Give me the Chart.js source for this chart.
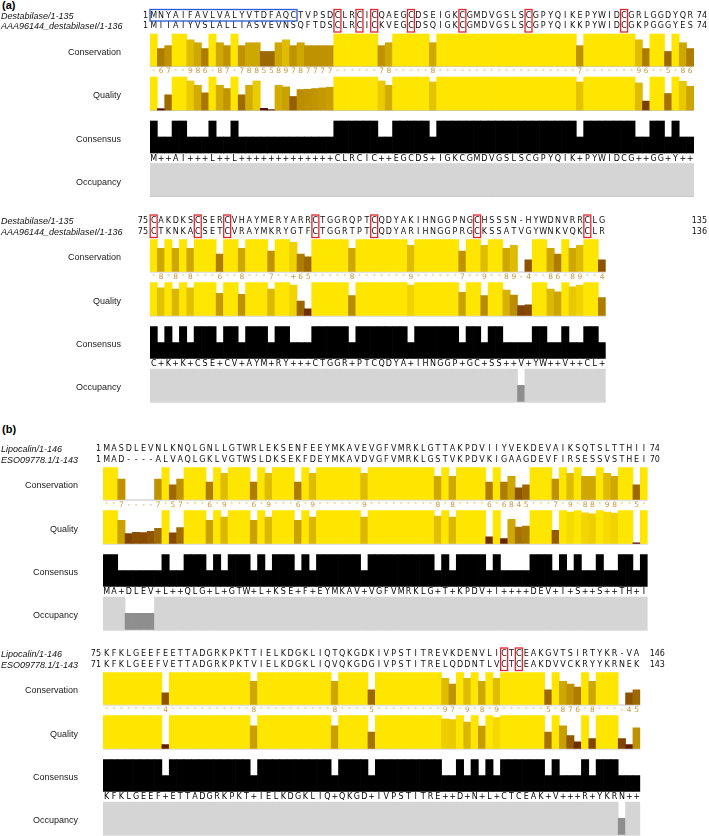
<!DOCTYPE html>
<html>
<head>
<meta charset="utf-8">
<script src="https://cdn.jsdelivr.net/npm/chart.js@4.4.1/dist/chart.umd.min.js"></script>
<style>
  html, body { margin: 0; padding: 0; background: #fff; }
  #page { position: relative; width: 709px; height: 836px; overflow: hidden; }
  #page canvas { position: absolute; left: 0; top: 0; }
  .panel { position: absolute; left: 2px; font: bold 11px "Liberation Sans", Arial, sans-serif; color: #000; }
</style>
</head>
<body>
<div id="page">
  <div class="panel" style="top:-1px">(a)</div>
  <div class="panel" style="top:423px">(b)</div>
  <canvas id="a1" width="709" height="836"></canvas>
  <canvas id="a2" width="709" height="836"></canvas>
  <canvas id="b1" width="709" height="836"></canvas>
  <canvas id="b2" width="709" height="836"></canvas>
</div>
<script>
// ---- (a) Destabilase vs AAA96144, columns 1-74
const a1Names = ['Destabilase/1-135', 'AAA96144_destabilaseI/1-136'];
const a1Seq1 = 'MNYAIFAVLVALYVTDFAQCTVPSDCLRCICQAEGCDSEIGKCGMDVGSLSCGPYQIKEPYWIDCGRLGGDYQR';
const a1Seq2 = 'MIIAIYVSLALLIASVEVNSQFTDSCLRCICKVEGCDSQIGKCGMDVGSLSCGPYQIKKPYWIDCGKPGGGYES';
const a1Start = [1, 1];
const a1End = [74, 74];
const a1Cons = [11, 6, 7, 11, 11, 9, 8, 6, 11, 8,
  7, 11, 7, 8, 8, 5, 5, 8, 9, 7,
  8, 7, 7, 7, 7, 11, 11, 11, 11, 11,
  11, 7, 8, 11, 11, 11, 11, 11, 8, 11,
  11, 11, 11, 11, 11, 11, 11, 11, 11, 11,
  11, 11, 11, 11, 11, 11, 11, 11, 7, 11,
  11, 11, 11, 11, 11, 11, 9, 6, 11, 11,
  5, 11, 8, 6];
const a1Qual = [1, 0.04, 0.46, 1, 1, 0.88, 0.75, 0.52, 1, 0.75,
  0.65, 1, 0.46, 0.75, 0.88, 0.05, 0.01, 0.75, 0.7, 0.41,
  0.62, 0.63, 0.65, 0.67, 0.69, 1, 1, 1, 1, 1,
  1, 0.88, 0.75, 1, 1, 1, 1, 1, 0.85, 1,
  1, 1, 1, 1, 1, 1, 1, 1, 1, 1,
  1, 1, 1, 1, 1, 1, 1, 1, 0.85, 1,
  1, 1, 1, 1, 1, 1, 0.82, 0.27, 1, 1,
  0.5, 1, 0.87, 0.72];
const a1Consensus = [100, 50, 50, 100, 100, 50, 50, 50, 100, 50,
  50, 100, 50, 50, 50, 50, 50, 50, 50, 50,
  50, 50, 50, 50, 50, 100, 100, 100, 100, 100,
  100, 50, 50, 100, 100, 100, 100, 100, 50, 100,
  100, 100, 100, 100, 100, 100, 100, 100, 100, 100,
  100, 100, 100, 100, 100, 100, 100, 100, 50, 100,
  100, 100, 100, 100, 100, 100, 50, 50, 100, 100,
  50, 100, 50, 50];
const a1ConsText = 'M++AI+++L++L+++++++++++++CLRCIC++EGCDS+IGKCGMDVGSLSCGPYQIK+PYWIDCG++GG+Y++';
const a1Occ = [2, 2, 2, 2, 2, 2, 2, 2, 2, 2,
  2, 2, 2, 2, 2, 2, 2, 2, 2, 2,
  2, 2, 2, 2, 2, 2, 2, 2, 2, 2,
  2, 2, 2, 2, 2, 2, 2, 2, 2, 2,
  2, 2, 2, 2, 2, 2, 2, 2, 2, 2,
  2, 2, 2, 2, 2, 2, 2, 2, 2, 2,
  2, 2, 2, 2, 2, 2, 2, 2, 2, 2,
  2, 2, 2, 2];
const a1Red = [26, 29, 31, 36, 43, 52, 65];
const a1Blue = [1, 20];

// ---- (a) columns 75-136
const a2Seq1 = 'CAKDKSCSERCVHAYMERYARRCTGGRQPTCQDYAKIHNGGPNGCHSSSN-HYWDNVRRCLG';
const a2Seq2 = 'CTKNKACSETCVRAYMKRYGTFCTGGRTPTCQDYARIHNGGPRGCKSSATVGYWNKVQKCLR';
const a2Start = [75, 75];
const a2End = [135, 136];
const a2Cons = [11, 8, 11, 8, 11, 8, 11, 11, 11, 6,
  11, 11, 8, 11, 11, 11, 7, 11, 11, 10,
  6, 5, 11, 11, 11, 11, 11, 8, 11, 11,
  11, 11, 11, 11, 11, 9, 11, 11, 11, 11,
  11, 11, 7, 11, 11, 9, 11, 11, 8, 9,
  null, 4, 11, 11, 8, 6, 11, 8, 9, 11,
  11, 4];
const a2Qual = [1, 0.84, 1, 0.8, 1, 0.84, 1, 1, 1, 0.67,
  1, 1, 0.64, 1, 1, 1, 0.8, 1, 1, 0.92,
  0.44, 0.2, 1, 1, 1, 1, 1, 0.6, 1, 1,
  1, 1, 1, 1, 1, 0.92, 1, 1, 1, 1,
  1, 1, 0.7, 1, 1, 0.6, 1, 1, 0.77, 0.62,
  0.3, 0.32, 1, 1, 0.8, 0.72, 1, 0.87, 0.92, 1,
  1, 0.54];
const a2Consensus = [100, 50, 100, 50, 100, 50, 100, 100, 100, 50,
  100, 100, 50, 100, 100, 100, 50, 100, 100, 50,
  50, 50, 100, 100, 100, 100, 100, 50, 100, 100,
  100, 100, 100, 100, 100, 50, 100, 100, 100, 100,
  100, 100, 50, 100, 100, 50, 100, 100, 50, 50,
  50, 50, 100, 100, 50, 50, 100, 50, 50, 100,
  100, 50];
const a2ConsText = 'C+K+K+CSE+CV+AYM+RY+++CTGGR+PTCQDYA+IHNGGP+GC+SS++V+YW++V++CL+';
const a2Occ = [2, 2, 2, 2, 2, 2, 2, 2, 2, 2,
  2, 2, 2, 2, 2, 2, 2, 2, 2, 2,
  2, 2, 2, 2, 2, 2, 2, 2, 2, 2,
  2, 2, 2, 2, 2, 2, 2, 2, 2, 2,
  2, 2, 2, 2, 2, 2, 2, 2, 2, 2,
  1, 2, 2, 2, 2, 2, 2, 2, 2, 2,
  2, 2];
const a2Red = [1, 7, 11, 23, 31, 45, 60];

// ---- (b) Lipocalin vs ESO09778.1, columns 1-74
const bNames = ['Lipocalin/1-146', 'ESO09778.1/1-143'];
const b1Seq1 = 'MASDLEVNLKNQLGNLLGTWRLEKSENFEEYMKAVEVGFVMRKLGTTAKPDVIIYVEKDEVAIKSQTSLTTHII';
const b1Seq2 = 'MAD----ALVAQLGKLVGTWSLDKSEKFDEYMKAVDVGFVMRKLGSTVKPDVKIGAAGDEVFIRSESSVSTHEI';
const b1Start = [1, 1];
const b1End = [74, 70];
const b1Cons = [11, 11, 7, null, null, null, null, 7, 11, 5,
  7, 11, 11, 11, 6, 11, 9, 11, 11, 11,
  6, 11, 9, 11, 11, 11, 6, 11, 9, 11,
  11, 11, 11, 11, 11, 9, 11, 11, 11, 11,
  11, 11, 11, 11, 11, 8, 11, 8, 11, 11,
  11, 11, 6, 11, 6, 8, 4, 5, 11, 11,
  11, 7, 11, 9, 11, 8, 8, 11, 9, 8,
  11, 11, 5, 11];
const b1Qual = [1, 1, 0.7, 0.3, 0.34, 0.33, 0.37, 0.46, 1, 0.32,
  0.48, 1, 1, 1, 0.7, 1, 0.8, 1, 1, 1,
  0.7, 1, 0.8, 1, 1, 1, 0.7, 1, 0.8, 1,
  1, 1, 1, 1, 1, 0.8, 1, 1, 1, 1,
  1, 1, 1, 1, 1, 0.83, 1, 0.8, 1, 1,
  1, 1, 0.2, 1, 0.15, 0.73, 0.5, 0.53, 1, 1,
  1, 0.4, 1, 0.95, 1, 0.93, 0.9, 1, 0.95, 0.92,
  1, 1, 0.02, 1];
const b1Consensus = [100, 100, 50, 50, 50, 50, 50, 50, 100, 50,
  50, 100, 100, 100, 50, 100, 50, 100, 100, 100,
  50, 100, 50, 100, 100, 100, 50, 100, 50, 100,
  100, 100, 100, 100, 100, 50, 100, 100, 100, 100,
  100, 100, 100, 100, 100, 50, 100, 50, 100, 100,
  100, 100, 50, 100, 50, 50, 50, 50, 100, 100,
  100, 50, 100, 50, 100, 50, 50, 100, 50, 50,
  100, 100, 50, 100];
const b1ConsText = 'MA+DLEV+L++QLG+L+GTW+L+KSE+F+EYMKAV+VGFVMRKLG+T+KPDV+I++++DEV+I+S++S++TH+I';
const b1Occ = [2, 2, 2, 1, 1, 1, 1, 2, 2, 2,
  2, 2, 2, 2, 2, 2, 2, 2, 2, 2,
  2, 2, 2, 2, 2, 2, 2, 2, 2, 2,
  2, 2, 2, 2, 2, 2, 2, 2, 2, 2,
  2, 2, 2, 2, 2, 2, 2, 2, 2, 2,
  2, 2, 2, 2, 2, 2, 2, 2, 2, 2,
  2, 2, 2, 2, 2, 2, 2, 2, 2, 2,
  2, 2, 2, 2];

// ---- (b) columns 75-146 / 71-143
const b2Seq1 = 'KFKLGEEFEETTADGRKPKTTIELKDGKLIQTQKGDKIVPSTITREVKDENVLICTCEAKGVTSIRTYKR-VA';
const b2Seq2 = 'KFKLGEEFVETTADGRKPKTVIELKDGKLIQVQKGDGIVPSTITRELQDDNTLVCTCEAKDVVCKRYYKRNEK';
const b2Start = [75, 71];
const b2End = [146, 143];
const b2Cons = [11, 11, 11, 11, 11, 11, 11, 11, 4, 11,
  11, 11, 11, 11, 11, 11, 11, 11, 11, 11,
  8, 11, 11, 11, 11, 11, 11, 11, 11, 11,
  11, 8, 11, 11, 11, 11, 5, 11, 11, 11,
  11, 11, 11, 11, 11, 11, 9, 7, 11, 9,
  11, 8, 11, 9, 11, 11, 11, 11, 11, 11,
  5, 11, 8, 7, 6, 11, 8, 11, 11, 11,
  null, 4, 5];
const b2Qual = [1, 1, 1, 1, 1, 1, 1, 1, 0.12, 1,
  1, 1, 1, 1, 1, 1, 1, 1, 1, 1,
  0.69, 1, 1, 1, 1, 1, 1, 1, 1, 1,
  1, 0.69, 1, 1, 1, 1, 0.5, 1, 1, 1,
  1, 1, 1, 1, 1, 1, 0.9, 0.88, 1, 0.8,
  1, 0.68, 1, 0.94, 1, 1, 1, 1, 1, 1,
  0.5, 1, 0.69, 0.39, 0.2, 1, 0.3, 1, 1, 1,
  0.3, 0.12, 0.63];
const b2Consensus = [100, 100, 100, 100, 100, 100, 100, 100, 50, 100,
  100, 100, 100, 100, 100, 100, 100, 100, 100, 100,
  50, 100, 100, 100, 100, 100, 100, 100, 100, 100,
  100, 50, 100, 100, 100, 100, 50, 100, 100, 100,
  100, 100, 100, 100, 100, 100, 50, 50, 100, 50,
  100, 50, 100, 50, 100, 100, 100, 100, 100, 100,
  50, 100, 50, 50, 50, 100, 50, 100, 100, 100,
  50, 50, 50];
const b2ConsText = 'KFKLGEEF+ETTADGRKPKT+IELKDGKLIQ+QKGD+IVPSTITRE++D+N+L+CTCEAK+V+++R+YKRN++';
const b2Occ = [2, 2, 2, 2, 2, 2, 2, 2, 2, 2,
  2, 2, 2, 2, 2, 2, 2, 2, 2, 2,
  2, 2, 2, 2, 2, 2, 2, 2, 2, 2,
  2, 2, 2, 2, 2, 2, 2, 2, 2, 2,
  2, 2, 2, 2, 2, 2, 2, 2, 2, 2,
  2, 2, 2, 2, 2, 2, 2, 2, 2, 2,
  2, 2, 2, 2, 2, 2, 2, 2, 2, 2,
  1, 2, 2];
const b2Red = [55, 57];

const trackNames = ['Conservation', 'Quality', 'Consensus', 'Occupancy'];

// Jalview style brown -> yellow ramp
function shade(v) {
  v = Math.max(0, Math.min(1, v));
  return 'rgb(' + Math.round(255 * (0.3 + 0.7 * v)) + ',' + Math.round(255 * 0.9 * v) + ',0)';
}

const SEQ_FONT = '8px "DejaVu Sans", sans-serif';
const NAME_FONT = 'italic 9px "Liberation Sans", Arial, sans-serif';
const LABEL_FONT = '9px "Liberation Sans", Arial, sans-serif';

// offsets (px) below the first sequence row
const OFF = {
  row1: 0, row2: 10.5, consTop: 18.5, consBot: 50.5, nums: 56,
  qualTop: 61.5, qualBot: 94.5, cnsTop: 105.5, cnsBot: 137.5,
  cnsText: 143, occTop: 148, occBot: 180.5
};

function makeBlock(id, blk, g) {
  const n = blk.seq1.length;
  const Y = k => g.r1 + OFF[k];
  const range = (bot, top, frac) => frac == null ? null : [Y(bot), Y(bot) - frac * (Y(bot) - Y(top))];

  const datasets = [
    { data: blk.cons.map(v => range('consBot', 'consTop', v == null ? null : v / 11)),
      backgroundColor: blk.cons.map(v => shade((v || 0) / 11)) },
    { data: blk.qual.map(v => range('qualBot', 'qualTop', v)),
      backgroundColor: blk.qual.map(v => shade(v)) },
    { data: blk.consensus.map(v => range('cnsBot', 'cnsTop', v / 100)),
      backgroundColor: '#000' },
    { data: blk.occ.map(v => range('occBot', 'occTop', v / 2)),
      backgroundColor: blk.occ.map(v => v === 2 ? '#d5d5d5' : '#8e8e8e') }
  ];

  const textPlugin = {
    id: 'alignText',
    beforeDatasetsDraw(chart) {
      const ctx = chart.ctx, x = chart.scales.x;
      ctx.save();
      ctx.fillStyle = '#c4c4c4';
      ['consBot', 'qualBot', 'occBot'].forEach(k => ctx.fillRect(x.left, Y(k), x.right - x.left, 1));
      ctx.restore();
    },
    afterDatasetsDraw(chart) {
      const ctx = chart.ctx, x = chart.scales.x;
      const cw = (x.right - x.left) / n;
      const px = i => x.getPixelForValue(i);
      const rows = [Y('row1'), Y('row2')];
      ctx.save();
      ctx.textBaseline = 'middle';

      // names
      ctx.font = NAME_FONT; ctx.fillStyle = '#111'; ctx.textAlign = 'left';
      blk.names.forEach((nm, r) => ctx.fillText(nm, 1, rows[r] + 0.5));

      // start / end residue numbers
      ctx.font = SEQ_FONT;
      ctx.textAlign = 'right';
      blk.start.forEach((s, r) => ctx.fillText(String(s), x.left - 2, rows[r]));
      if (g.endRight) {
        blk.end.forEach((e, r) => ctx.fillText(String(e), g.endRight, rows[r]));
      } else {
        ctx.textAlign = 'left';
        blk.end.forEach((e, r) => ctx.fillText(String(e), x.left + 74 * cw + 2, rows[r]));
      }

      // residues
      ctx.textAlign = 'center';
      [blk.seq1, blk.seq2].forEach((s, r) => {
        s.split('').forEach((c, i) => ctx.fillText(c, px(i), rows[r]));
      });

      // conservation labels
      blk.cons.forEach((v, i) => {
        if (v === 11) {
          ctx.font = '6px "DejaVu Sans", sans-serif'; ctx.fillStyle = '#e6c964';
          ctx.fillText('*', px(i), Y('nums') - 0.5);
        } else {
          ctx.font = '7.5px "DejaVu Sans", sans-serif'; ctx.fillStyle = '#c69a40';
          ctx.fillText(v == null ? '-' : (v === 10 ? '+' : String(v)), px(i), Y('nums'));
        }
      });

      // consensus letters
      ctx.font = SEQ_FONT; ctx.fillStyle = '#000';
      blk.consText.split('').forEach((c, i) => ctx.fillText(c, px(i), Y('cnsText')));

      // annotation row labels
      ctx.font = LABEL_FONT; ctx.fillStyle = '#222'; ctx.textAlign = 'right';
      const mids = [['consTop', 'consBot'], ['qualTop', 'qualBot'], ['cnsTop', 'cnsBot'], ['occTop', 'occBot']];
      trackNames.forEach((t, k) => {
        ctx.fillText(t, g.labelRight, (Y(mids[k][0]) + Y(mids[k][1])) / 2 + 2.5);
      });

      // boxed residues
      ctx.lineWidth = 1.3;
      ctx.strokeStyle = '#e3262d';
      (blk.red || []).forEach(c => {
        const l = px(c - 1) - cw / 2;
        ctx.strokeRect(l + 0.2, rows[0] - 6, cw - 0.4, rows[1] - rows[0] + 12);
      });
      if (blk.blue) {
        ctx.strokeStyle = '#2859d6';
        const l = px(blk.blue[0] - 1) - cw / 2, r = px(blk.blue[1] - 1) + cw / 2;
        ctx.strokeRect(l, rows[0] - 6, r - l, 11.5);
      }
      ctx.restore();
    }
  };

  return new Chart(document.getElementById(id), {
    type: 'bar',
    data: { labels: blk.seq1.split('').map((c, i) => String(i + 1)), datasets },
    options: {
      responsive: false,
      animation: false,
      devicePixelRatio: 1,
      layout: { padding: { left: g.x0, right: 709 - g.x0 - n * g.colW, top: 0, bottom: 0 } },
      plugins: { legend: { display: false }, tooltip: { enabled: false } },
      datasets: { bar: { grouped: false, barPercentage: 1, categoryPercentage: 1, borderWidth: 0 } },
      scales: {
        x: { display: false },
        y: { display: false, min: 0, max: 836, reverse: true }
      }
    },
    plugins: [textPlugin]
  });
}

const aGeom = { x0: 150, colW: 7.35, labelRight: 121, endRight: 707 };
const bGeom = { x0: 103, colW: 7.36, labelRight: 78 };

makeBlock('a1', { names: a1Names, seq1: a1Seq1, seq2: a1Seq2, start: a1Start, end: a1End, cons: a1Cons,
  qual: a1Qual, consensus: a1Consensus, consText: a1ConsText, occ: a1Occ, red: a1Red, blue: a1Blue },
  Object.assign({ r1: 15.5 }, aGeom));
makeBlock('a2', { names: a1Names, seq1: a2Seq1, seq2: a2Seq2, start: a2Start, end: a2End, cons: a2Cons,
  qual: a2Qual, consensus: a2Consensus, consText: a2ConsText, occ: a2Occ, red: a2Red },
  Object.assign({ r1: 221 }, aGeom));
makeBlock('b1', { names: bNames, seq1: b1Seq1, seq2: b1Seq2, start: b1Start, end: b1End, cons: b1Cons,
  qual: b1Qual, consensus: b1Consensus, consText: b1ConsText, occ: b1Occ },
  Object.assign({ r1: 449 }, bGeom));
makeBlock('b2', { names: bNames, seq1: b2Seq1, seq2: b2Seq2, start: b2Start, end: b2End, cons: b2Cons,
  qual: b2Qual, consensus: b2Consensus, consText: b2ConsText, occ: b2Occ, red: b2Red },
  Object.assign({ r1: 654 }, bGeom));
</script>
</body>
</html>
